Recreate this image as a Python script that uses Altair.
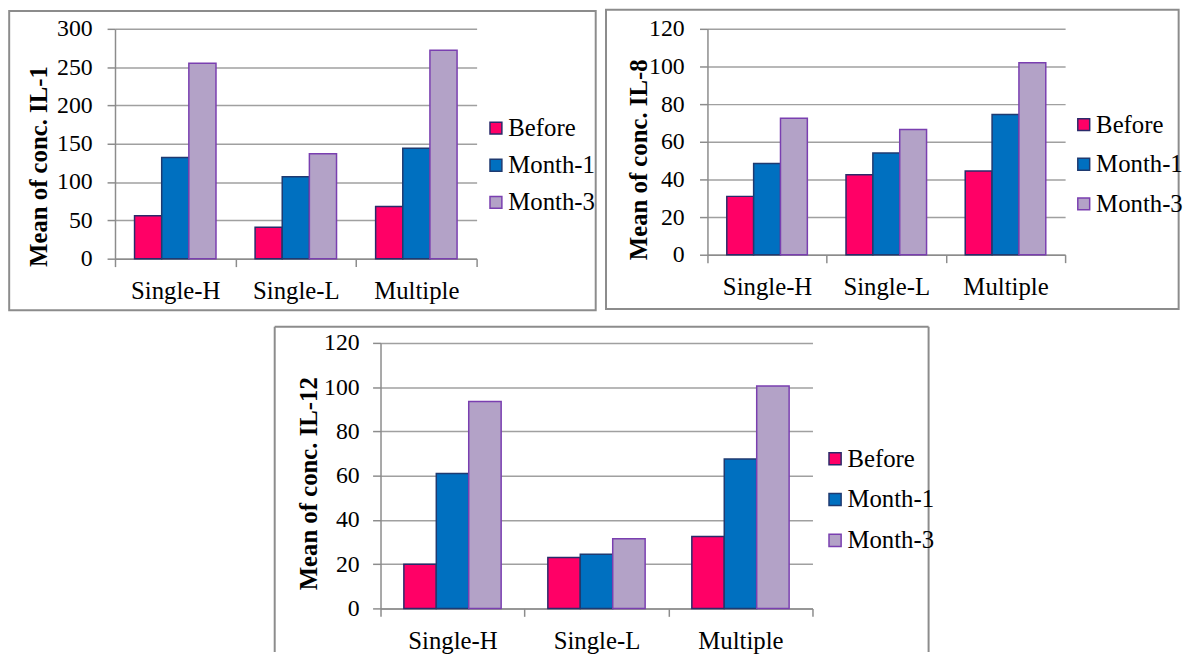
import altair as alt
import pandas as pd

categories = ["Single-H", "Single-L", "Multiple"]
series = ["Before", "Month-1", "Month-3"]

il1_before = [56, 41, 68]
il1_month1 = [132, 107, 144]
il1_month3 = [255, 137, 272]

il8_before = [31, 42.5, 44.5]
il8_month1 = [48.5, 54, 74.5]
il8_month3 = [72.5, 66.5, 102]

il12_before = [20, 23, 32.5]
il12_month1 = [61, 24.5, 67.5]
il12_month3 = [93.5, 31.5, 100.5]

il1_ticks = [0, 50, 100, 150, 200, 250, 300]
il8_ticks = [0, 20, 40, 60, 80, 100, 120]
il12_ticks = [0, 20, 40, 60, 80, 100, 120]

fills = ["#FF0066", "#0070C0", "#B3A2C7"]
strokes = ["#2A2A6A", "#1F3A70", "#7A3FB0"]
SERIF = "Liberation Serif"
FRAME = "#8C8C8C"

IND = dict(x="independent", y="independent", fill="independent",
           stroke="independent", xOffset="independent")


def make_df(before, m1, m3):
    rows = []
    for s, vals in zip(series, [before, m1, m3]):
        for c, v in zip(categories, vals):
            rows.append({"category": c, "series": s, "value": v})
    return pd.DataFrame(rows)


def frame_layers(fl, fr, ft, fb, closed):
    one = pd.DataFrame({"f": [0]})
    if closed:
        return [alt.Chart(one).mark_rect(
            fill="white", fillOpacity=0, stroke=FRAME, strokeWidth=2
        ).encode(x=alt.value(fl), x2=alt.value(fr), y=alt.value(ft), y2=alt.value(fb))]
    rule = alt.Chart(one).mark_rule(color=FRAME, strokeWidth=2)
    return [
        rule.encode(x=alt.value(fl), x2=alt.value(fr), y=alt.value(ft)),
        rule.encode(x=alt.value(fl), y=alt.value(ft), y2=alt.value(fb)),
        rule.encode(x=alt.value(fr), y=alt.value(ft), y2=alt.value(fb)),
    ]


def panel(before, m1, m3, title, ticks, w, h, frame, leg_xy, title_xy,
          row_pad, sym_size, ylab_pad, xlab_pad, closed=True):
    df = make_df(before, m1, m3)
    fl, fr, ft, fb = frame
    leg = alt.Legend(
        title=None, orient="none", legendX=leg_xy[0], legendY=leg_xy[1],
        symbolType="square", symbolSize=sym_size, symbolStrokeWidth=1.5,
        labelFont=SERIF, labelFontSize=25, labelColor="black", labelOffset=0,
        rowPadding=row_pad, padding=0, labelLimit=300,
    )
    bars = alt.Chart(df).mark_bar(strokeWidth=1.5).encode(
        x=alt.X("category:N", sort=categories,
                scale=alt.Scale(paddingInner=0, paddingOuter=0),
                axis=alt.Axis(title=None, tickBand="extent", labelAngle=0,
                              labelPadding=xlab_pad, tickSize=8, labelFontSize=25)),
        xOffset=alt.XOffset("series:N", sort=series,
                            scale=alt.Scale(paddingInner=0, paddingOuter=0.72)),
        y=alt.Y("value:Q",
                scale=alt.Scale(domain=[ticks[0], ticks[-1]], nice=False),
                axis=alt.Axis(values=ticks, title=title, titleX=title_xy[0],
                              titleY=title_xy[1], titleAngle=270,
                              titleAlign="center", titleBaseline="middle",
                              labelPadding=ylab_pad, tickSize=8)),
        fill=alt.Fill("series:N", sort=series,
                      scale=alt.Scale(domain=series, range=fills), legend=leg),
        stroke=alt.Stroke("series:N", sort=series,
                          scale=alt.Scale(domain=series, range=strokes), legend=leg),
    )
    return alt.layer(*frame_layers(fl, fr, ft, fb, closed), bars).properties(
        width=w, height=h)


p1 = panel(il1_before, il1_month1, il1_month3, "Mean of conc. IL-1", il1_ticks,
           365, 232, (-106.8, 485.2, -18, 284), (372, 87.7), (-77, 138.5),
           11.5, 144, 15, 12.5)
p2 = panel(il8_before, il8_month1, il8_month3, "Mean of conc. IL-8", il8_ticks,
           361, 228, (-102.4, 475.6, -19.3, 282.7), (367.3, 84.2), (-70, 131.7),
           14, 144, 15.5, 12.5)
p3 = panel(il12_before, il12_month1, il12_month3, "Mean of conc. IL-12", il12_ticks,
           436, 268, (-106.8, 553.2, -16.3, 312), (446.3, 104.4), (-73, 141.7),
           15.2, 150, 13.5, 12, closed=False)

spacer = alt.Chart(pd.DataFrame({"s": [0]})).mark_point(size=0, opacity=0).encode(
    x=alt.value(10), y=alt.value(0.5)
).properties(width=160, height=1)

top = alt.hconcat(p1, p2, spacing=7).resolve_scale(**IND)
bottom = alt.hconcat(spacer, p3, spacing=0).resolve_scale(**IND)

chart = alt.vconcat(top, bottom, spacing=14).resolve_scale(**IND).properties(
    padding={"left": 0, "top": -3, "right": 0, "bottom": 0}
).configure_view(stroke=None).configure_axis(
    labelFont=SERIF, labelFontSize=24, labelColor="black",
    titleFont=SERIF, titleFontSize=25, titleFontWeight="bold", titleColor="black",
    gridColor="#A0A0A0", gridWidth=1.5, domainColor="#8C8C8C", domainWidth=1.5,
    tickColor="#8C8C8C", tickWidth=1.5,
).configure_axisX(grid=False).configure_axisY(grid=True)

chart.save("out.html", embed_options={"renderer": "svg", "actions": False})
